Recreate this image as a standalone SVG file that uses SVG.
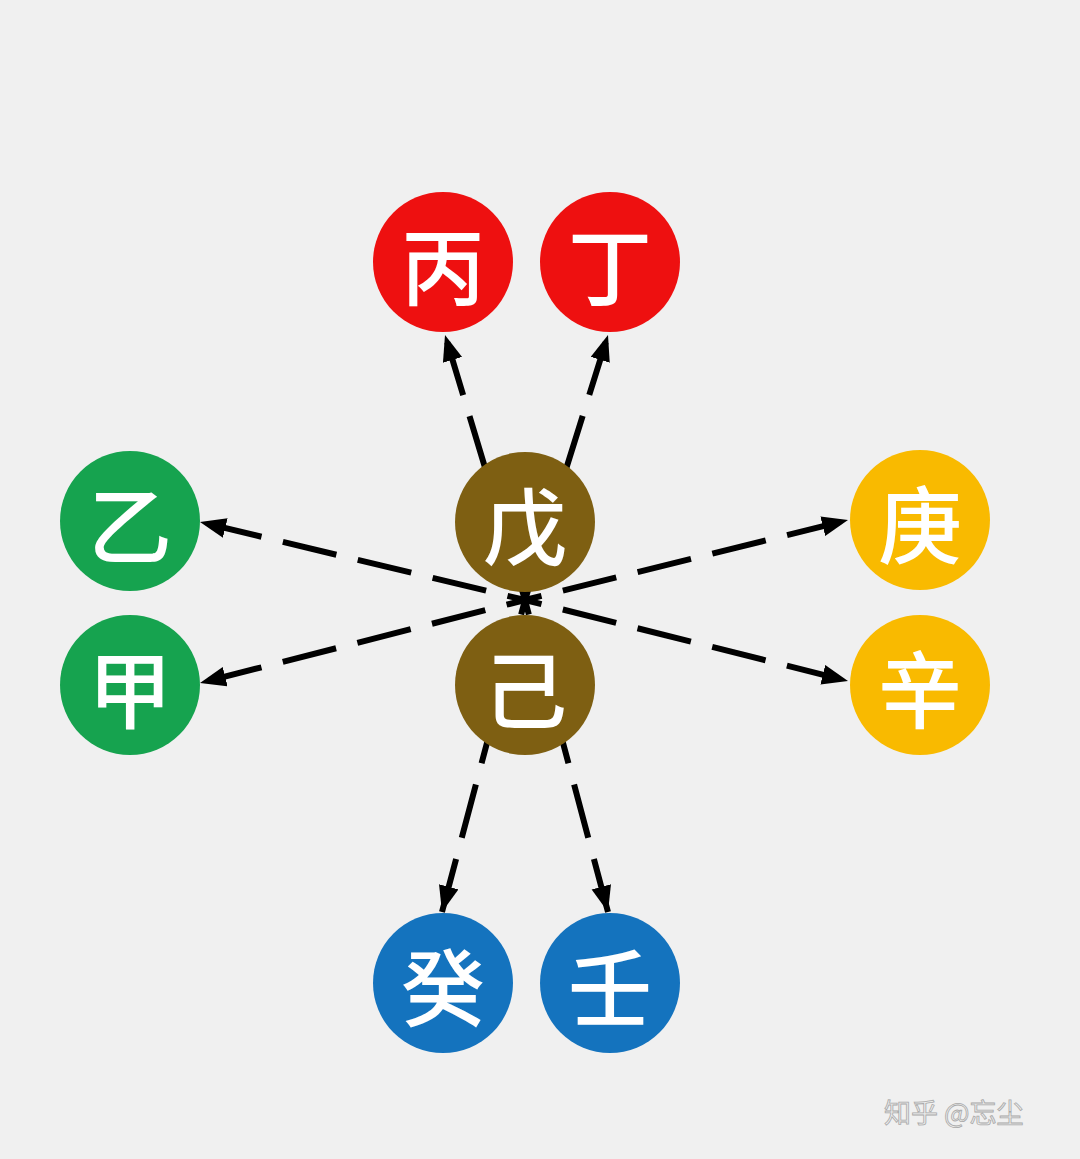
<svg xmlns="http://www.w3.org/2000/svg" width="1080" height="1159" viewBox="0 0 1080 1159">
  <defs>
    <marker id="ah" markerUnits="userSpaceOnUse" markerWidth="28" markerHeight="22" refX="26" refY="10" orient="auto">
      <path d="M0,0 L26,10 L0,20 z" fill="#000"/>
    </marker>
    <style>
      .conn line { stroke:#000; stroke-width:6; stroke-dasharray:55 22; fill:none; marker-end:url(#ah); }
      .lbl { font-family:"Noto Sans CJK SC","Noto Sans CJK TC",sans-serif; font-size:84px; fill:#fff; text-anchor:middle; dominant-baseline:central; font-weight:500; }
      .red { fill:#EE1010; }
      .green { fill:#16A34F; }
      .brown { fill:#7E5F12; }
      .yellow { fill:#F9BA00; }
      .blue { fill:#1473BE; }
      .wm { font-family:"Noto Sans CJK SC",sans-serif; font-size:27px; fill:#ececec; stroke:#a9a9a9; stroke-width:0.8; }
    </style>
  </defs>
  <rect width="1080" height="1159" fill="#f0f0f0"/>
  <g id="connectors" class="conn">
    <line x1="525" y1="600" x2="445" y2="335" stroke-dashoffset="17"/>
    <line x1="525" y1="600" x2="608" y2="335" stroke-dashoffset="16"/>
    <line x1="525" y1="600" x2="200" y2="522" stroke-dashoffset="37"/>
    <line x1="525" y1="600" x2="200" y2="683" stroke-dashoffset="36"/>
    <line x1="525" y1="600" x2="848" y2="520" stroke-dashoffset="38"/>
    <line x1="525" y1="600" x2="848" y2="681" stroke-dashoffset="38"/>
    <line x1="525" y1="600" x2="442" y2="912" stroke-dashoffset="40"/>
    <line x1="525" y1="600" x2="608" y2="912" stroke-dashoffset="40"/>
  </g>
  <g id="bing"><circle cx="443" cy="262" r="70" class="red"/><text x="443" y="262" class="lbl">丙</text></g>
  <g id="ding"><circle cx="610" cy="262" r="70" class="red"/><text x="610" y="262" class="lbl">丁</text></g>
  <g id="yi"><circle cx="130" cy="521" r="70" class="green"/><text x="130" y="521" class="lbl">乙</text></g>
  <g id="jia"><circle cx="130" cy="685" r="70" class="green"/><text x="130" y="685" class="lbl">甲</text></g>
  <g id="wu"><circle cx="525" cy="522" r="70" class="brown"/><text x="525" y="522" class="lbl">戊</text></g>
  <g id="ji"><circle cx="525" cy="685" r="70" class="brown"/><text x="525" y="685" class="lbl">己</text></g>
  <g id="geng"><circle cx="920" cy="520" r="70" class="yellow"/><text x="920" y="520" class="lbl">庚</text></g>
  <g id="xin"><circle cx="920" cy="685" r="70" class="yellow"/><text x="920" y="685" class="lbl">辛</text></g>
  <g id="gui"><circle cx="443" cy="983" r="70" class="blue"/><text x="443" y="983" class="lbl">癸</text></g>
  <g id="ren"><circle cx="610" cy="983" r="70" class="blue"/><text x="610" y="983" class="lbl">壬</text></g>
  <text x="884" y="1123" class="wm">知乎 @忘尘</text>
</svg>
